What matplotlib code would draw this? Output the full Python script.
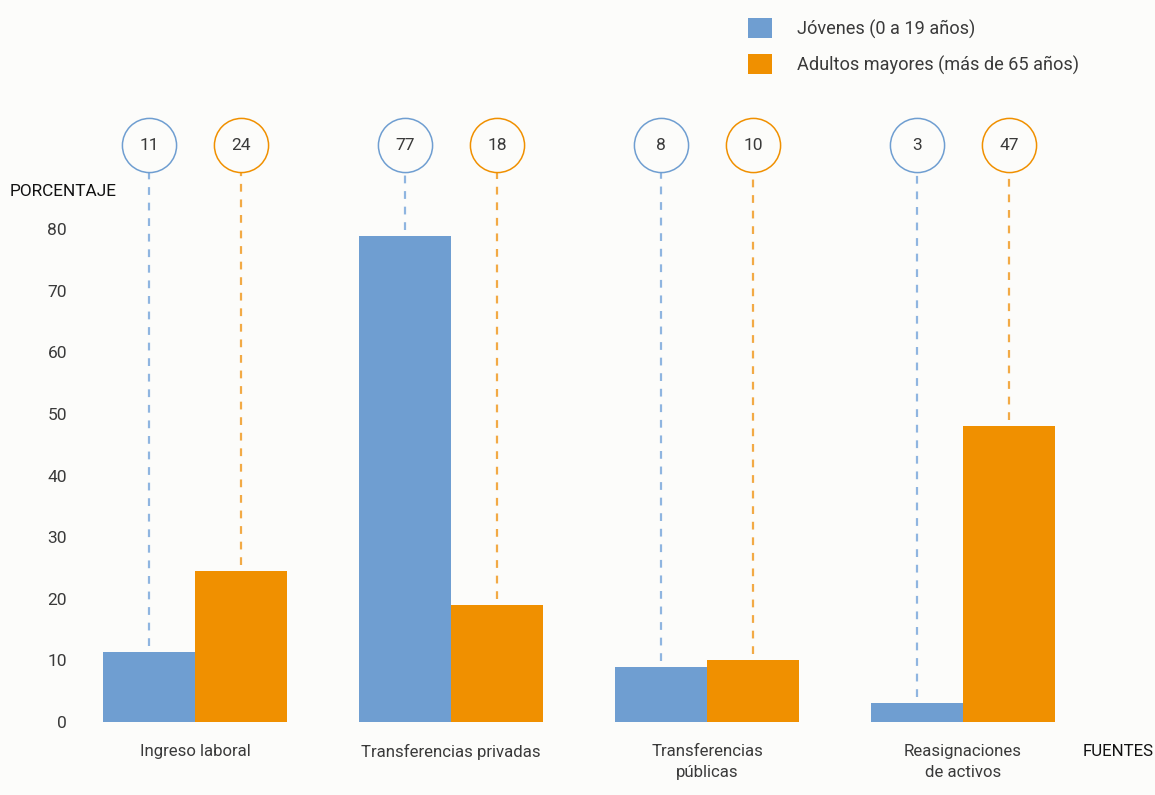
import matplotlib
matplotlib.use("Agg")
import matplotlib.pyplot as plt
import numpy as np

plt.rcParams['font.family'] = ['Roboto', 'DejaVu Sans']

# datos
categorias = ["Ingreso laboral", "Transferencias privadas", "Transferencias\npúblicas", "Reasignaciones\nde activos"]
jovenes = [11.4, 78.9, 8.9, 3.1]          # altura de barras
adultos = [24.5, 19.0, 10.1, 48.0]
jovenes_etiq = ["11", "77", "8", "3"]     # numeros en los circulos
adultos_etiq = ["24", "18", "10", "47"]
yticks = [0, 10, 20, 30, 40, 50, 60, 70, 80]

azul = "#6f9ed1"
naranja = "#f09000"
azul_linea = "#8fb5e0"
naranja_linea = "#f2aa45"
fondo = "#fcfcfa"
texto = "#3a3a3a"

fig = plt.figure(figsize=(11.55, 7.95), dpi=100, facecolor=fondo)
ax = fig.add_axes([67 / 1155, 73 / 795, 1024 / 1155, 616 / 795])
ax.set_facecolor(fondo)

x = np.arange(len(categorias))
w = 0.36
b1 = ax.bar(x - w / 2, jovenes, w, color=azul, label="Jóvenes (0 a 19 años)", zorder=2)
b2 = ax.bar(x + w / 2, adultos, w, color=naranja, label="Adultos mayores (más de 65 años)", zorder=2)

y_circ = 93.6
# lineas punteadas y circulos
for xs, vals, etiq, c_lin, c_circ in [(x - w / 2, jovenes, jovenes_etiq, azul_linea, azul),
                                      (x + w / 2, adultos, adultos_etiq, naranja_linea, naranja)]:
    for xi, v, t in zip(xs, vals, etiq):
        ax.plot([xi, xi], [v + 1.0, y_circ], color=c_lin, lw=1.6, dashes=(3.5, 3.5), zorder=1)
        ax.plot(xi, y_circ, marker="o", markersize=39, markerfacecolor=fondo,
                markeredgecolor=c_circ, markeredgewidth=1.1, zorder=3, clip_on=False)
        ax.text(xi, y_circ, t, ha="center", va="center", fontsize=12.5, color=texto, zorder=4)

ax.set_xlim(-0.5, 3.5)
ax.set_ylim(0, 100)
ax.set_yticks(yticks)
ax.set_yticklabels([str(v) for v in yticks], fontsize=12.5, color=texto)
ax.set_xticks(x)
ax.set_xticklabels(categorias, fontsize=12.1, color=texto, linespacing=1.5)
ax.tick_params(length=0, axis="y", pad=0)
ax.tick_params(length=0, axis="x", pad=16)
for s in ax.spines.values():
    s.set_visible(False)

fig.text(10 / 1155, 1 - 192 / 795, "PORCENTAJE", fontsize=12.4, color="#111111", va="center", ha="left")
fig.text(1 - 1 / 1155, 1 - 751 / 795, "FUENTES", fontsize=12.2, color="#111111", va="center", ha="right")

leg = fig.legend(handles=[b1, b2], loc="upper left", bbox_to_anchor=(741 / 1155, 1 - 11 / 795),
                 frameon=False, fontsize=13.1, handlelength=1.3, handleheight=1.3,
                 handletextpad=1.4, labelspacing=0.87, borderaxespad=0)
for t in leg.get_texts():
    t.set_color(texto)

fig.savefig("out.png", dpi=100, facecolor=fondo)
